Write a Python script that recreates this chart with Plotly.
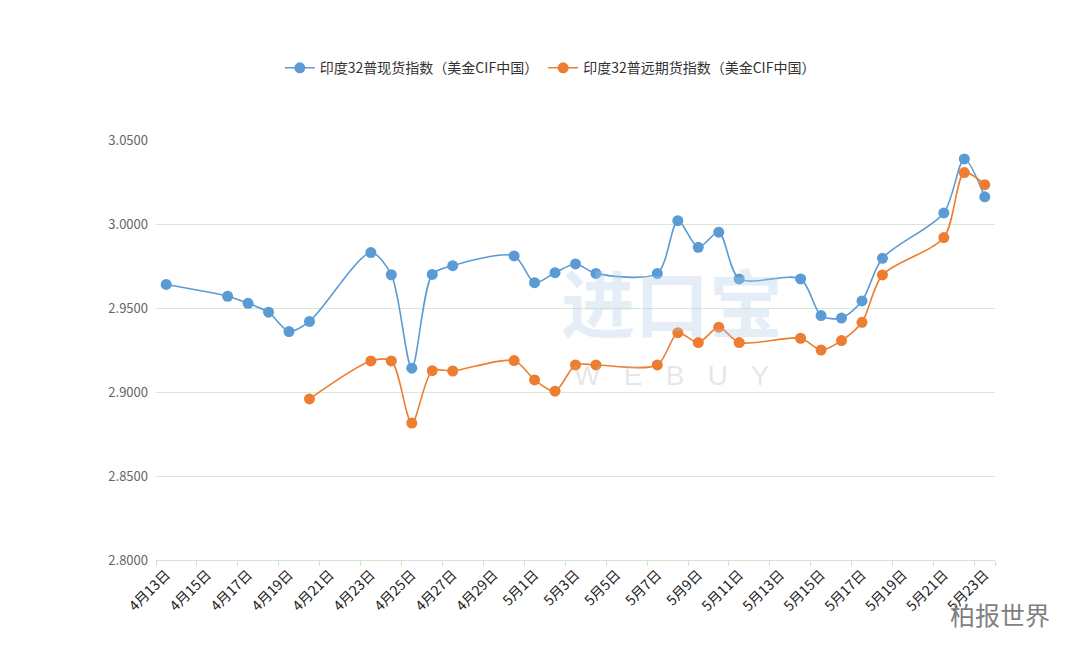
import plotly.graph_objects as go

dates = ["4月13日", "4月14日", "4月15日", "4月16日", "4月17日", "4月18日", "4月19日",
         "4月20日", "4月21日", "4月22日", "4月23日", "4月24日", "4月25日", "4月26日",
         "4月27日", "4月28日", "4月29日", "4月30日", "5月1日", "5月2日", "5月3日",
         "5月4日", "5月5日", "5月6日", "5月7日", "5月8日", "5月9日", "5月10日",
         "5月11日", "5月12日", "5月13日", "5月14日", "5月15日", "5月16日", "5月17日",
         "5月18日", "5月19日", "5月20日", "5月21日", "5月22日", "5月23日"]

spot = [2.9640, None, None, 2.9570, 2.9528, 2.9475, 2.9360,
        2.9420, None, None, 2.9830, 2.9698, 2.9142, 2.9700,
        2.9752, None, None, 2.9810, 2.9651, 2.9710, 2.9762,
        2.9706, None, None, 2.9706, 3.0020, 2.9861, 2.9951,
        2.9673, None, None, 2.9673, 2.9455, 2.9440, 2.9542,
        2.9796, None, None, 3.0066, 3.0387, 3.0162]

forward = [None, None, None, None, None, None, None,
           2.8959, None, None, 2.9185, 2.9185, 2.8815, 2.9127,
           2.9125, None, None, 2.9187, 2.9072, 2.9005, 2.9161,
           2.9161, None, None, 2.9161, 2.9353, 2.9294, 2.9386,
           2.9294, None, None, 2.9320, 2.9250, 2.9306, 2.9415,
           2.9697, None, None, 2.9919, 3.0306, 3.0234]

series_names = ["印度32普现货指数（美金CIF中国）", "印度32普远期货指数（美金CIF中国）"]
colors = ["#5b9bd5", "#ed7d31"]

y_ticks = [2.80, 2.85, 2.90, 2.95, 3.00, 3.05]
x_ticks = dates[::2]

font_cn = "Noto Sans CJK SC, Microsoft YaHei, sans-serif"

fig = go.Figure()
for name, vals, col in zip(series_names, [spot, forward], colors):
    fig.add_trace(go.Scatter(
        x=dates, y=vals, name=name, mode="lines+markers",
        connectgaps=True,
        line=dict(color=col, width=1.6, shape="spline", smoothing=0.8),
        marker=dict(color=col, size=11),
    ))

# watermarks
fig.add_annotation(text="进口宝", x=0.615, y=0.62, xref="paper", yref="paper",
                   showarrow=False,
                   font=dict(size=74, color="rgba(175,203,230,0.32)", family=font_cn, weight=700))
fig.add_annotation(text="W   E   B   U   Y", x=0.615, y=0.44, xref="paper", yref="paper",
                   showarrow=False,
                   font=dict(size=28, color="rgba(185,185,185,0.35)", family="Liberation Sans"))
fig.add_annotation(text="柏报世界", x=(992 - 148) / 839, y=(560 - 614) / 420,
                   xref="paper", yref="paper", xanchor="center", yanchor="middle",
                   showarrow=False, font=dict(size=25, color="#7f7f7f", family=font_cn))

fig.update_layout(
    width=1080, height=662,
    margin=dict(l=148, r=93, t=132, b=110),
    paper_bgcolor="white", plot_bgcolor="white",
    font=dict(family=font_cn, color="#333"),
    showlegend=True,
    legend=dict(orientation="h", x=0.47, xanchor="center", y=1.171, yanchor="middle",
                font=dict(size=14, color="#333", family=font_cn), itemwidth=30),
    xaxis=dict(type="category", range=[-0.5, len(dates) - 0.5],
               tickmode="array", tickvals=x_ticks, ticktext=x_ticks,
               tickson="boundaries", ticks="outside", ticklen=5, tickcolor="#d3e3cf",
               showgrid=False, showline=True, linecolor="#d3e3cf", linewidth=1,
               tickangle=-45, tickfont=dict(size=14, color="#222", family=font_cn),
               zeroline=False),
    yaxis=dict(range=[2.80, 3.05], tickmode="array", tickvals=y_ticks,
               tickformat=".4f", showgrid=True, gridcolor="#d9e7d5", gridwidth=1,
               showline=False, zeroline=False, ticks="", ticklabelstandoff=7,
               tickfont=dict(size=13, color="#666", family=font_cn)),
)

fig.write_html("out.html")
